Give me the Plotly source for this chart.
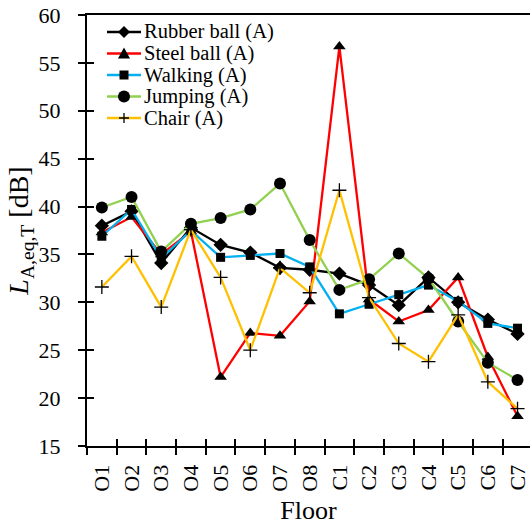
import plotly.graph_objects as go

floors = ["O1", "O2", "O3", "O4", "O5", "O6", "O7", "O8",
          "C1", "C2", "C3", "C4", "C5", "C6", "C7"]

rubber_ball = [38.0, 39.5, 34.1, 37.8, 36.0, 35.2, 33.6, 33.4, 33.0, 31.8, 29.7, 32.6, 30.0, 28.2, 26.7]
steel_ball = [37.3, 38.9, 35.0, 37.4, 22.2, 26.8, 26.5, 30.1, 56.7, 30.3, 28.0, 29.2, 32.6, 24.3, 18.1]
walking = [36.9, 39.7, 34.6, 37.5, 34.7, 34.9, 35.1, 33.7, 28.8, 29.8, 30.8, 31.8, 30.1, 27.8, 27.3]
jumping = [39.9, 41.0, 35.3, 38.2, 38.8, 39.7, 42.4, 36.5, 31.3, 32.4, 35.1, 32.5, 28.0, 23.7, 21.9]
chair = [31.6, 34.8, 29.5, 37.6, 32.6, 25.0, 33.6, 31.0, 41.7, 30.5, 25.7, 23.8, 28.7, 21.7, 18.9]

series_names = ["Rubber ball (A)", "Steel ball (A)", "Walking (A)", "Jumping (A)", "Chair (A)"]
series_values = [rubber_ball, steel_ball, walking, jumping, chair]
series_colors = ["#000000", "#FF0000", "#00B0F0", "#92D050", "#FFC000"]
series_symbols = ["diamond", "triangle-up", "square", "circle", "cross-thin"]
series_sizes = [11, 11, 9, 12, 10]

FONT = "Liberation Serif"

W, H = 530, 527
ML, MR, MT, MB = 87, 0, 15, 81
PW, PH = W - ML - MR, H - MT - MB


def px_x(fx):
    return (fx - ML) / PW


def px_y(fy):
    return (H - MB - fy) / PH


fig = go.Figure()
for name, vals, color, sym, size in zip(series_names, series_values, series_colors,
                                        series_symbols, series_sizes):
    fig.add_trace(go.Scatter(
        x=floors, y=vals, name=name, mode="lines+markers", showlegend=False,
        line=dict(color=color, width=2.3),
        marker=dict(symbol=sym, size=size, color="#000000",
                    line=dict(color="#000000", width=1.3 if sym == "cross-thin" else 0)),
    ))

# invisible helper trace for the overlaid axes that give crossing tick marks
fig.add_trace(go.Scatter(x=floors, y=rubber_ball, xaxis="x2", yaxis="y2",
                         mode="lines", line=dict(width=0), opacity=0,
                         showlegend=False, hoverinfo="skip"))

# custom legend (compact rows like the reference)
marker_paths = {
    "diamond": "M0,6 L6,0 L0,-6 L-6,0 Z",
    "triangle-up": "M-6,-5 L6,-5 L0,6 Z",
    "square": "M-4.5,-4.5 L4.5,-4.5 L4.5,4.5 L-4.5,4.5 Z",
    "cross-thin": "M-5,0 L5,0 M0,-5 L0,5",
}
row_y = [32, 53.5, 75, 96.5, 118]
line_cx = 124
shapes = []
annotations = []
for name, color, sym, fy in zip(series_names, series_colors, series_symbols, row_y):
    xa, ya = px_x(line_cx), px_y(fy)
    shapes.append(dict(type="line", xref="paper", yref="paper",
                       xsizemode="pixel", ysizemode="pixel", xanchor=xa, yanchor=ya,
                       x0=-17, x1=17, y0=0, y1=0,
                       line=dict(color=color, width=2.3)))
    if sym == "circle":
        shapes.append(dict(type="circle", xref="paper", yref="paper",
                           xsizemode="pixel", ysizemode="pixel", xanchor=xa, yanchor=ya,
                           x0=-6, x1=6, y0=-6, y1=6,
                           fillcolor="black", line=dict(width=0)))
    elif sym == "cross-thin":
        shapes.append(dict(type="path", xref="paper", yref="paper",
                           xsizemode="pixel", ysizemode="pixel", xanchor=xa, yanchor=ya,
                           path=marker_paths[sym], line=dict(color="black", width=1.3)))
    else:
        shapes.append(dict(type="path", xref="paper", yref="paper",
                           xsizemode="pixel", ysizemode="pixel", xanchor=xa, yanchor=ya,
                           path=marker_paths[sym], fillcolor="black", line=dict(width=0)))
    annotations.append(dict(text=name, xref="paper", yref="paper",
                            x=px_x(142), y=ya, xanchor="left", yanchor="middle",
                            showarrow=False, font=dict(family=FONT, size=20.5, color="black")))

xr = [-0.5, 14.42]
yr = [15, 60]

fig.update_layout(
    width=W, height=H,
    margin=dict(l=ML, r=MR, t=MT, b=MB, pad=0),
    plot_bgcolor="white", paper_bgcolor="white",
    font=dict(family=FONT, size=22, color="black"),
    showlegend=False,
    shapes=shapes,
    annotations=annotations,
    xaxis=dict(type="category", range=xr, showline=True, linecolor="black",
               linewidth=2, mirror=True, ticks="outside", ticklen=7,
               tickwidth=1.5, tickcolor="black", tickson="boundaries",
               tickangle=-90, showgrid=False, zeroline=False, automargin=False,
               ticklabelstandoff=8,
               title=dict(text="Floor", font=dict(size=26), standoff=10),
               tickfont=dict(size=22)),
    yaxis=dict(range=yr, dtick=5, showline=True, linecolor="black", linewidth=2,
               ticks="outside", ticklen=7, tickwidth=1.5, tickcolor="black",
               showgrid=False, zeroline=False, ticklabelstandoff=13, automargin=False,
               title=dict(text="<i>L</i><sub>A,eq,T</sub> [dB]", font=dict(size=28), standoff=2),
               tickfont=dict(size=22)),
    xaxis2=dict(type="category", overlaying="x", anchor="y", side="bottom",
                range=xr, ticks="inside", ticklen=7, tickwidth=1.5,
                tickcolor="black", tickson="boundaries", showticklabels=False,
                showgrid=False, zeroline=False, showline=False),
    yaxis2=dict(overlaying="y", anchor="x", side="left", range=yr, dtick=5,
                ticks="inside", ticklen=7, tickwidth=1.5, tickcolor="black",
                showticklabels=False, showgrid=False, zeroline=False, showline=False),
)

fig.write_html("out.html", config={"displayModeBar": False},
               post_script="document.body.style.margin='0px';document.body.style.padding='0px';")
